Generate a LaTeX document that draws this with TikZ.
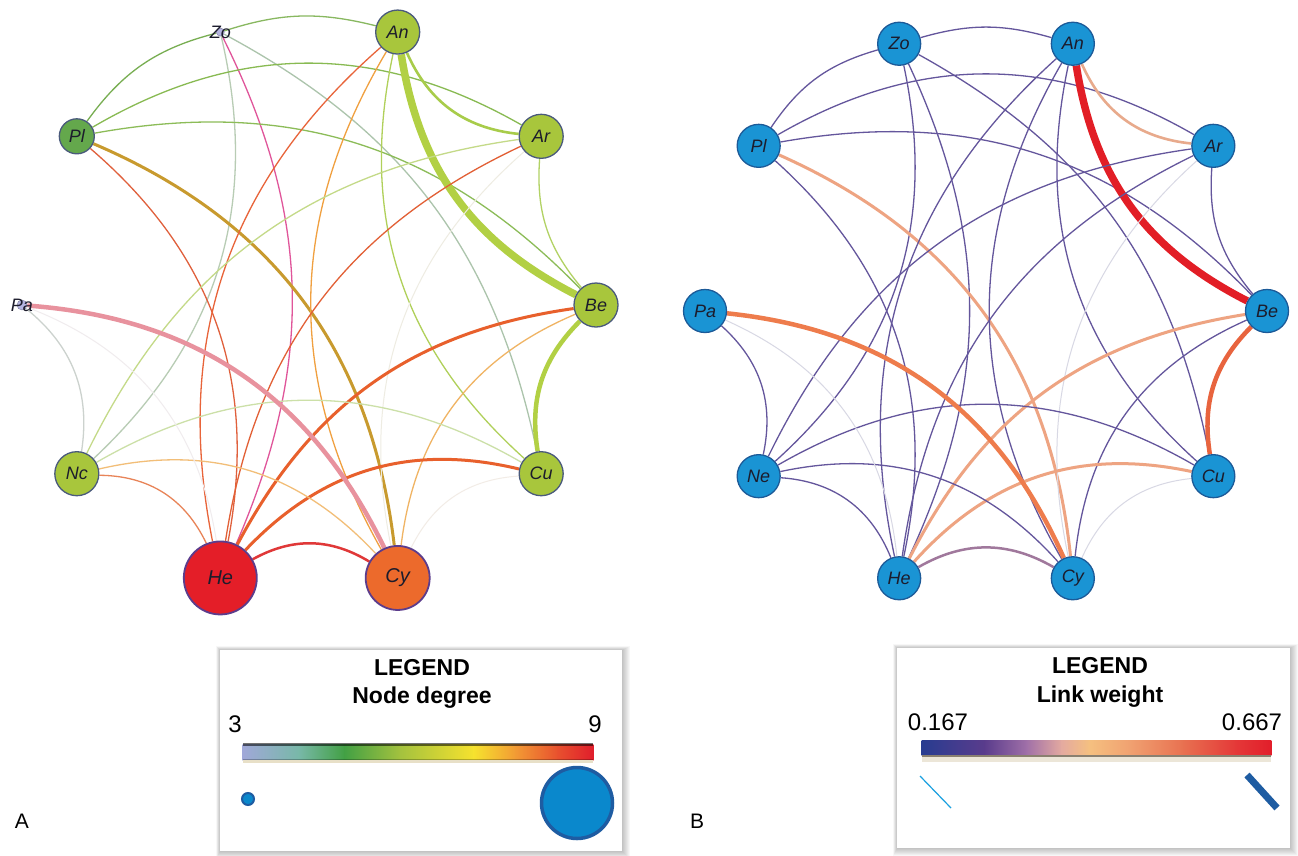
\documentclass[tikz,border=0pt]{standalone}
\usepackage{fontspec}
\setmainfont{Liberation Sans}
\usetikzlibrary{backgrounds}

% node colours
\definecolor{labelc}{HTML}{1C1C2C}
\definecolor{lav}{HTML}{B4B4E0}
\definecolor{ygreen}{HTML}{A8C63C}
\definecolor{dgreen}{HTML}{64A84C}
\definecolor{hered}{HTML}{E41E28}
\definecolor{cyor}{HTML}{EC6A2C}
\definecolor{aborder}{HTML}{4A5A7C}
\definecolor{hborder}{HTML}{5C3C8C}
\definecolor{bfill}{HTML}{1A94D4}
\definecolor{bborder}{HTML}{1C5A98}
% link colours, panel B (weight scale)
\definecolor{lowlink}{HTML}{64569C}
\definecolor{peach}{HTML}{EEA482}
\definecolor{lightpeach}{HTML}{E8AA8C}
\definecolor{topred}{HTML}{E21E26}
\definecolor{midred}{HTML}{E8643E}
\definecolor{orangeB}{HTML}{EE7C4C}
\definecolor{faint}{HTML}{D8D8E4}
\definecolor{mauve}{HTML}{A0789C}
% link colours, panel A (blend of end colours)
\definecolor{eZoAn}{HTML}{88B860}
\definecolor{eZoPl}{HTML}{78AE52}
\definecolor{eZoHe}{HTML}{E0559A}
\definecolor{eZoNc}{HTML}{B8CCB4}
\definecolor{eZoCu}{HTML}{ACC4AC}
\definecolor{ePlAr}{HTML}{88BA52}
\definecolor{ePlBe}{HTML}{8CBC58}
\definecolor{ePlCy}{HTML}{C89A2E}
\definecolor{ePlHe}{HTML}{E0603C}
\definecolor{eAnBe}{HTML}{B2D044}
\definecolor{eAnAr}{HTML}{A8CC4A}
\definecolor{eAnHe}{HTML}{E8643A}
\definecolor{eAnCy}{HTML}{F0A040}
\definecolor{eAnCu}{HTML}{B0D05A}
\definecolor{eArHe}{HTML}{E26036}
\definecolor{eArNc}{HTML}{C4DA88}
\definecolor{eArBe}{HTML}{B2D264}
\definecolor{eArCy}{HTML}{EEECE2}
\definecolor{eBeHe}{HTML}{E8602C}
\definecolor{eBeCu}{HTML}{B2D044}
\definecolor{eBeCy}{HTML}{F0B464}
\definecolor{eCuHe}{HTML}{E8602C}
\definecolor{eCuNc}{HTML}{CCE0A8}
\definecolor{eCuCy}{HTML}{F2ECE6}
\definecolor{eNcHe}{HTML}{E88458}
\definecolor{eNcCy}{HTML}{F2BE78}
\definecolor{ePaNc}{HTML}{CCD2CE}
\definecolor{ePaCy}{HTML}{E8929E}
\definecolor{ePaHe}{HTML}{F0ECEE}
\definecolor{eHeCy}{HTML}{E03838}
% colour bars
\definecolor{gA0}{HTML}{A0A8D8}
\definecolor{gA1}{HTML}{78B8A8}
\definecolor{gA2}{HTML}{42A044}
\definecolor{gA3}{HTML}{A4C23E}
\definecolor{gA4}{HTML}{F6E22E}
\definecolor{gA5}{HTML}{F29A34}
\definecolor{gA6}{HTML}{E8502E}
\definecolor{gA7}{HTML}{E01E2C}
\definecolor{gB0}{HTML}{283C90}
\definecolor{gB1}{HTML}{5A3C8C}
\definecolor{gB2}{HTML}{A070A8}
\definecolor{gB3}{HTML}{E4AAA0}
\definecolor{gB4}{HTML}{F5C080}
\definecolor{gB5}{HTML}{F0A070}
\definecolor{gB6}{HTML}{E87050}
\definecolor{gB7}{HTML}{E43838}
\definecolor{gB8}{HTML}{E21E2A}
\definecolor{legblue}{HTML}{0A88CC}
\definecolor{legedge}{HTML}{1E5CA2}
\definecolor{legcyan}{HTML}{1AA0E0}
\definecolor{barbeige}{HTML}{E8E0C8}
\definecolor{bargrey}{HTML}{8A8070}
\definecolor{barbeigeB}{HTML}{ECE6D8}

\tikzset{
  gnode/.style={circle, inner sep=0pt, line width=1.3pt, text=labelc,
    font=\fontsize{18}{18}\selectfont\itshape},
  anode/.style={gnode, draw=aborder},
  bignode/.style={gnode, draw=hborder, line width=1.8pt,
    font=\fontsize{20}{20}\selectfont\itshape},
  tinynode/.style={circle, inner sep=0pt, fill=lav, draw=lav!70!black, line width=0.4pt},
  tinylabel/.style={text=labelc, font=\fontsize{18}{18}\selectfont\itshape},
  bnode/.style={gnode, draw=bborder, fill=bfill, minimum size=43pt},
  legtitle/.style={anchor=base, font=\fontsize{23}{23}\selectfont\bfseries},
  legnum/.style={anchor=base, font=\fontsize{24}{24}\selectfont},
  panel/.style={anchor=base, font=\fontsize{21}{21}\selectfont},
}

\begin{document}
\begin{tikzpicture}[x=1pt,y=1pt]
\useasboundingbox (0,0) rectangle (1298,-855);
\begin{pgfonlayer}{background}
  \fill[white] (0,0) rectangle (1298,-855);
\end{pgfonlayer}

% ---------- panel A: nodes coloured and sized by degree ----------
\node[anode, fill=ygreen, minimum size=44pt] (aAn) at ([shift={(72:287)}]309,-305) {An};
\node[anode, fill=ygreen, minimum size=44pt] (aAr) at ([shift={(36:287)}]309,-305) {Ar};
\node[anode, fill=ygreen, minimum size=44pt] (aBe) at ([shift={(0:287)}]309,-305) {Be};
\node[anode, fill=ygreen, minimum size=44pt] (aCu) at ([shift={(-36:287)}]309,-305) {Cu};
\node[anode, fill=ygreen, minimum size=44pt] (aNc) at ([shift={(216:287)}]309,-305) {Nc};
\node[anode, fill=dgreen, minimum size=35pt] (aPl) at ([shift={(144:287)}]309,-305) {Pl};
\node[bignode, fill=hered, minimum size=73pt] (aHe) at ([shift={(252:287)}]309,-305) {He};
\node[bignode, fill=cyor, minimum size=64pt] (aCy) at ([shift={(288:287)}]309,-305) {Cy};
\node[tinynode, minimum size=8pt, label={[tinylabel]center:Zo}] (aZo) at ([shift={(108:287)}]309,-305) {};
\node[tinynode, minimum size=10pt, label={[tinylabel]center:Pa}] (aPa) at ([shift={(180:287)}]309,-305) {};

% ---------- panel B: uniform nodes, links coloured by weight ----------
\node[bnode] (bAn) at ([shift={(72:281)}]986,-311) {An};
\node[bnode] (bAr) at ([shift={(36:281)}]986,-311) {Ar};
\node[bnode] (bBe) at ([shift={(0:281)}]986,-311) {Be};
\node[bnode] (bCu) at ([shift={(-36:281)}]986,-311) {Cu};
\node[bnode] (bNc) at ([shift={(216:281)}]986,-311) {Ne};
\node[bnode] (bPl) at ([shift={(144:281)}]986,-311) {Pl};
\node[bnode] (bHe) at ([shift={(252:281)}]986,-311) {He};
\node[bnode] (bCy) at ([shift={(288:281)}]986,-311) {Cy};
\node[bnode] (bZo) at ([shift={(108:281)}]986,-311) {Zo};
\node[bnode] (bPa) at ([shift={(180:281)}]986,-311) {Pa};

% ---------- links (same layout in both panels) ----------
\begin{pgfonlayer}{background}
\foreach \s/\t/\b/\w/\ca/\cb in {
  Zo/An/16/1.3/eZoAn/lowlink,
  Pl/Zo/20/1.3/eZoPl/lowlink,
  Zo/He/25/1.3/eZoHe/lowlink,
  Zo/Nc/30/1.3/eZoNc/lowlink,
  Zo/Cu/25/1.3/eZoCu/lowlink,
  Pl/Ar/30/1.3/ePlAr/lowlink,
  Pl/Be/28/1.3/ePlBe/lowlink,
  Pl/Cy/30/3/ePlCy/peach,
  Pl/He/30/1.3/ePlHe/lowlink,
  Be/An/27/7.5/eAnBe/topred,
  Ar/An/30/2.6/eAnAr/lightpeach,
  He/An/30/1.3/eAnHe/lowlink,
  Cy/An/30/1.3/eAnCy/lowlink,
  Cu/An/30/1.3/eAnCu/lowlink,
  He/Ar/28/1.3/eArHe/lowlink,
  Nc/Ar/28/1.3/eArNc/lowlink,
  Be/Ar/22/1.3/eArBe/lowlink,
  Cy/Ar/30/1/eArCy/faint,
  He/Be/27/3/eBeHe/peach,
  Cu/Be/27/4.5/eBeCu/midred,
  Cy/Be/30/1.3/eBeCy/lowlink,
  He/Cu/30/3/eCuHe/peach,
  Nc/Cu/30/1.3/eCuNc/lowlink,
  Cy/Cu/30/1/eCuCy/faint,
  Nc/He/32/1.3/eNcHe/lowlink,
  Nc/Cy/30/1.3/eNcCy/lowlink,
  Pa/Nc/30/1.3/ePaNc/lowlink,
  Pa/Cy/30/4.5/ePaCy/orangeB,
  Pa/He/30/1/ePaHe/faint,
  He/Cy/30/2.5/eHeCy/mauve}
{
  \draw[line width=\w pt, draw=\ca] (a\s) to[bend left=\b] (a\t);
  \draw[line width=\w pt, draw=\cb] (b\s) to[bend left=\b] (b\t);
}
\end{pgfonlayer}

% ---------- legend A ----------
\foreach \i in {1,...,8}
  \fill[black, opacity=0.03] ({220-\i*0.5},{-650+\i*0.5}) rectangle ({622+\i},{-851-\i});
\fill[white] (220,-650) rectangle (622,-851);
\node[legtitle] (legAt) at (422,-675) {LEGEND};
\node[legtitle] (legAs) at (422,-703) {Node degree};
\node[legnum] (legAlo) at (235,-732) {3};
\node[legnum] (legAhi) at (595,-732) {9};
\foreach \xa/\xb/\ca/\cb in {0/0.16/gA0/gA1, 0.16/0.29/gA1/gA2, 0.29/0.45/gA2/gA3,
    0.45/0.66/gA3/gA4, 0.66/0.78/gA4/gA5, 0.78/0.9/gA5/gA6, 0.9/1/gA6/gA7}
  \shade[left color=\ca, right color=\cb] ({243+350*\xa-0.4},-744) rectangle ({243+350*\xb+0.4},-760);
\fill[black, opacity=0.55] (243,-743) rectangle (593,-745.5);
\fill[black, opacity=0.25] (243,-758.5) rectangle (593,-760);
\fill[barbeige] (243,-760) rectangle (593,-763);
\draw[legedge, fill=legblue, line width=2pt] (248,-799) circle[radius=6];
\draw[legedge, fill=legblue, line width=3.5pt] (577,-803) circle[radius=35.5];

% ---------- legend B ----------
\foreach \i in {1,...,8}
  \fill[black, opacity=0.03] ({897-\i*0.5},{-648+\i*0.5}) rectangle ({1290+\i},{-848-\i});
\fill[white] (897,-648) rectangle (1290,-848);
\node[legtitle] (legBt) at (1100,-673) {LEGEND};
\node[legtitle] (legBs) at (1100,-702) {Link weight};
\node[legnum] (legBlo) at (938,-730) {0.167};
\node[legnum] (legBhi) at (1252,-730) {0.667};
\foreach \xa/\xb/\ca/\cb in {0/0.18/gB0/gB1, 0.18/0.3/gB1/gB2, 0.3/0.4/gB2/gB3,
    0.4/0.48/gB3/gB4, 0.48/0.6/gB4/gB5, 0.6/0.75/gB5/gB6, 0.75/0.9/gB6/gB7, 0.9/1/gB7/gB8}
  \shade[left color=\ca, right color=\cb] ({922+349*\xa-0.4},-740) rectangle ({922+349*\xb+0.4},-755);
\fill[bargrey] (922,-755) rectangle (1271,-757);
\fill[barbeigeB] (922,-757) rectangle (1271,-762);
\draw[legcyan, line width=1.2pt] (920,-776) -- (951,-808);
\draw[legedge, line width=7pt] (1247,-775) -- (1277,-808);

% ---------- panel letters ----------
\node[panel] (pA) at (22,-828) {A};
\node[panel] (pB) at (697,-828) {B};
\end{tikzpicture}
\end{document}
